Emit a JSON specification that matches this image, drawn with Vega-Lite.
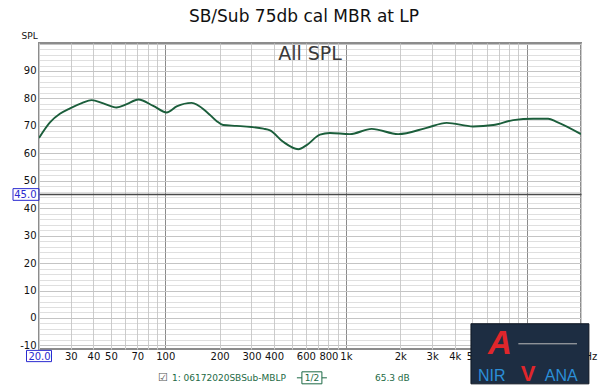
{
  "$schema": "https://vega.github.io/schema/vega-lite/v6.json",
  "width": 542,
  "height": 306,
  "autosize": {"type": "none"},
  "padding": {"left": 39, "top": 43, "right": 19, "bottom": 40},
  "background": "white",
  "title": {"text": "SB/Sub 75db cal MBR at LP", "fontSize": 17, "font": "DejaVu Sans", "fontWeight": "normal", "color": "#111111", "anchor": "middle", "offset": 5, "dx": -6},
  "config": {"view": {"stroke": "#8c8c8c", "strokeWidth": 2}, "font": "DejaVu Sans"},
  "layer": [
    {
      "data": {"values": [
        {"freq": 20, "spl": 65.6}, {"freq": 23, "spl": 71.3}, {"freq": 26.1, "spl": 74.4}, {"freq": 29.7, "spl": 76.4},
        {"freq": 34.5, "spl": 78.3}, {"freq": 39.1, "spl": 79.4}, {"freq": 45.4, "spl": 78.2}, {"freq": 53.8, "spl": 76.7},
        {"freq": 61.2, "spl": 77.9}, {"freq": 70.9, "spl": 79.6}, {"freq": 85.8, "spl": 77.3}, {"freq": 101.8, "spl": 74.9},
        {"freq": 115.6, "spl": 77.1}, {"freq": 140, "spl": 78.4}, {"freq": 169.5, "spl": 75.1}, {"freq": 192, "spl": 71.8},
        {"freq": 209, "spl": 70.3}, {"freq": 248, "spl": 70.0}, {"freq": 300, "spl": 69.6}, {"freq": 349, "spl": 69.0},
        {"freq": 380, "spl": 68.4}, {"freq": 449, "spl": 64.2}, {"freq": 545, "spl": 61.5}, {"freq": 606, "spl": 63.0},
        {"freq": 718, "spl": 66.8}, {"freq": 815, "spl": 67.4}, {"freq": 1052, "spl": 67.0}, {"freq": 1388, "spl": 68.9},
        {"freq": 1947, "spl": 67.0}, {"freq": 2798, "spl": 69.3}, {"freq": 3608, "spl": 71.1}, {"freq": 5060, "spl": 69.8},
        {"freq": 6534, "spl": 70.3}, {"freq": 8432, "spl": 72.1}, {"freq": 10876, "spl": 72.6}, {"freq": 13160, "spl": 72.6},
        {"freq": 14656, "spl": 71.5}, {"freq": 20000, "spl": 67.0}
      ]},
      "mark": {"type": "line", "interpolate": "monotone", "color": "#1b5e3b", "strokeWidth": 1.9, "clip": true},
      "encoding": {
        "x": {
          "field": "freq", "type": "quantitative",
          "scale": {"type": "log", "domain": [20, 20000], "nice": false},
          "axis": {
            "values": [20, 30, 40, 50, 60, 70, 80, 90, 100, 200, 300, 400, 500, 600, 700, 800, 900, 1000, 2000, 3000, 4000, 5000, 6000, 7000, 8000, 9000, 10000, 20000],
            "tickCount": 200,
            "labelExpr": "indexof([20,30,40,50,70,100,200,300,400,600,800,1000,2000,3000,4000,5000,7000,10000,20000], datum.value) < 0 ? '' : (datum.value == 20 ? '20.0' : (datum.value == 20000 ? '20kHz' : (datum.value >= 1000 ? (datum.value / 1000) + 'k' : '' + datum.value)))",
            "title": null,
            "grid": true,
            "gridColor": {"condition": {"test": "datum.value == 100 || datum.value == 1000 || datum.value == 10000", "value": "#8a8a8a"}, "value": "#cccccc"},
            "gridWidth": 1,
            "domain": false,
            "ticks": false,
            "labelPadding": 2,
            "labelFontSize": 10,
            "labelFont": "DejaVu Sans",
            "labelColor": {"condition": {"test": "datum.value == 20", "value": "#2b2bd0"}, "value": "#111111"},
            "labelFlush": false,
            "labelOverlap": false,
            "labelBound": false
          }
        },
        "y": {
          "field": "spl", "type": "quantitative",
          "scale": {"domain": [-11.3, 100.2], "nice": false, "zero": false},
          "axis": {
            "values": [-10, -8, -6, -4, -2, 0, 2, 4, 6, 8, 10, 12, 14, 16, 18, 20, 22, 24, 26, 28, 30, 32, 34, 36, 38, 40, 42, 44, 45, 46, 48, 50, 52, 54, 56, 58, 60, 62, 64, 66, 68, 70, 72, 74, 76, 78, 80, 82, 84, 86, 88, 90, 92, 94, 96, 98, 100],
            "tickCount": 200,
            "labelExpr": "datum.value == 45 ? '45.0' : (indexof([-10,0,10,20,30,40,50,60,70,80,90], datum.value) >= 0 ? '' + datum.value : '')",
            "grid": true,
            "gridColor": {"condition": {"test": "datum.value == 45", "value": "#4a4a4a"}, "value": "#c4c4c4"},
            "gridOpacity": {"condition": {"test": "datum.value == 45 || datum.value % 10 == 0", "value": 1}, "value": 0.55},
            "gridWidth": {"condition": {"test": "datum.value == 45", "value": 1.6}, "value": 1},
            "domain": false,
            "ticks": false,
            "labelPadding": 3,
            "labelFontSize": 10,
            "labelFont": "DejaVu Sans",
            "labelColor": {"condition": {"test": "datum.value == 45", "value": "#2b2bd0"}, "value": "#111111"},
            "labelOverlap": false,
            "labelBound": false,
            "labelFlush": false,
            "title": "SPL",
            "titleAngle": 0,
            "titleAlign": "left",
            "titleBaseline": "middle",
            "titleX": -18,
            "titleY": -8,
            "titleFontSize": 9,
            "titleFontWeight": "normal",
            "titleFont": "DejaVu Sans",
            "titleColor": "#111111"
          }
        }
      }
    },
    {
      "data": {"values": [{}]},
      "mark": {"type": "text", "text": "All SPL", "fontSize": 19, "color": "#3a3a3a", "align": "center", "baseline": "alphabetic"},
      "encoding": {"x": {"datum": 632.5, "type": "quantitative"}, "y": {"datum": 94, "type": "quantitative"}}
    },
    {
      "data": {"values": [{}]},
      "mark": {"type": "point", "shape": "M-1,-0.45L1,-0.45L1,0.45L-1,0.45Z", "size": 676, "filled": false, "stroke": "#2b2bd0", "strokeWidth": 1, "opacity": 1, "xOffset": -13},
      "encoding": {"x": {"datum": 20, "type": "quantitative"}, "y": {"datum": 45, "type": "quantitative"}}
    },
    {
      "data": {"values": [{}]},
      "mark": {"type": "point", "shape": "M-1,-0.45L1,-0.45L1,0.45L-1,0.45Z", "size": 625, "filled": false, "stroke": "#2b2bd0", "strokeWidth": 1, "opacity": 1, "yOffset": 7},
      "encoding": {"x": {"datum": 20, "type": "quantitative"}, "y": {"datum": -11.3, "type": "quantitative"}}
    },
    {
      "data": {"values": [{}]},
      "mark": {"type": "text", "text": "☑", "fontSize": 11, "color": "#555555", "align": "center", "baseline": "middle"},
      "encoding": {"x": {"datum": 97.1, "type": "quantitative"}, "y": {"datum": -21.8, "type": "quantitative"}}
    },
    {
      "data": {"values": [{}]},
      "mark": {"type": "text", "text": "1: 06172020SBSub-MBLP", "fontSize": 9, "color": "#1d6a45", "align": "left", "baseline": "middle"},
      "encoding": {"x": {"datum": 108.9, "type": "quantitative"}, "y": {"datum": -21.8, "type": "quantitative"}}
    },
    {
      "data": {"values": [{}]},
      "mark": {"type": "point", "shape": "M-1.5,0L-1,0M-1,-0.6L1,-0.6L1,0.6L-1,0.6ZM1,0L1.5,0", "size": 400, "filled": false, "stroke": "#1d6a45", "strokeWidth": 1, "opacity": 1},
      "encoding": {"x": {"datum": 648, "type": "quantitative"}, "y": {"datum": -21.8, "type": "quantitative"}}
    },
    {
      "data": {"values": [{}]},
      "mark": {"type": "text", "text": "1/2", "fontSize": 9, "color": "#1d6a45", "align": "center", "baseline": "middle"},
      "encoding": {"x": {"datum": 648, "type": "quantitative"}, "y": {"datum": -21.8, "type": "quantitative"}}
    },
    {
      "data": {"values": [{}]},
      "mark": {"type": "text", "text": "65.3 dB", "fontSize": 9, "color": "#1d6a45", "align": "left", "baseline": "middle"},
      "encoding": {"x": {"datum": 1447, "type": "quantitative"}, "y": {"datum": -21.8, "type": "quantitative"}}
    },
    {
      "data": {"values": [{}]},
      "mark": {"type": "rect", "color": "#1d2d42", "stroke": "#0e1622", "strokeWidth": 1},
      "encoding": {
        "x": {"datum": 4920, "type": "quantitative"}, "x2": {"datum": 22120},
        "y": {"datum": -2.1, "type": "quantitative"}, "y2": {"datum": -24}
      }
    },
    {
      "data": {"values": [{}]},
      "mark": {"type": "rule", "color": "#bbbbbb", "strokeWidth": 1},
      "encoding": {
        "x": {"datum": 9000, "type": "quantitative"}, "x2": {"datum": 19000},
        "y": {"datum": -9.4, "type": "quantitative"}
      }
    },
    {
      "data": {"values": [{}]},
      "mark": {"type": "text", "text": "A", "fontSize": 33, "fontWeight": "bold", "fontStyle": "italic", "font": "Liberation Sans", "color": "#e0262b", "align": "center", "baseline": "alphabetic"},
      "encoding": {"x": {"datum": 7114, "type": "quantitative"}, "y": {"datum": -13.3, "type": "quantitative"}}
    },
    {
      "data": {"values": [{}]},
      "mark": {"type": "text", "text": "NIR", "fontSize": 16, "font": "Liberation Sans", "color": "#2b8fd8", "align": "left", "baseline": "alphabetic"},
      "encoding": {"x": {"datum": 5378, "type": "quantitative"}, "y": {"datum": -22.8, "type": "quantitative"}}
    },
    {
      "data": {"values": [{}]},
      "mark": {"type": "text", "text": "V", "fontSize": 22, "fontWeight": "bold", "font": "Liberation Sans", "color": "#e0262b", "align": "center", "baseline": "alphabetic"},
      "encoding": {"x": {"datum": 10200, "type": "quantitative"}, "y": {"datum": -22.8, "type": "quantitative"}}
    },
    {
      "data": {"values": [{}]},
      "mark": {"type": "text", "text": "ANA", "fontSize": 16, "font": "Liberation Sans", "color": "#2b8fd8", "align": "left", "baseline": "alphabetic"},
      "encoding": {"x": {"datum": 12620, "type": "quantitative"}, "y": {"datum": -22.8, "type": "quantitative"}}
    }
  ]
}
